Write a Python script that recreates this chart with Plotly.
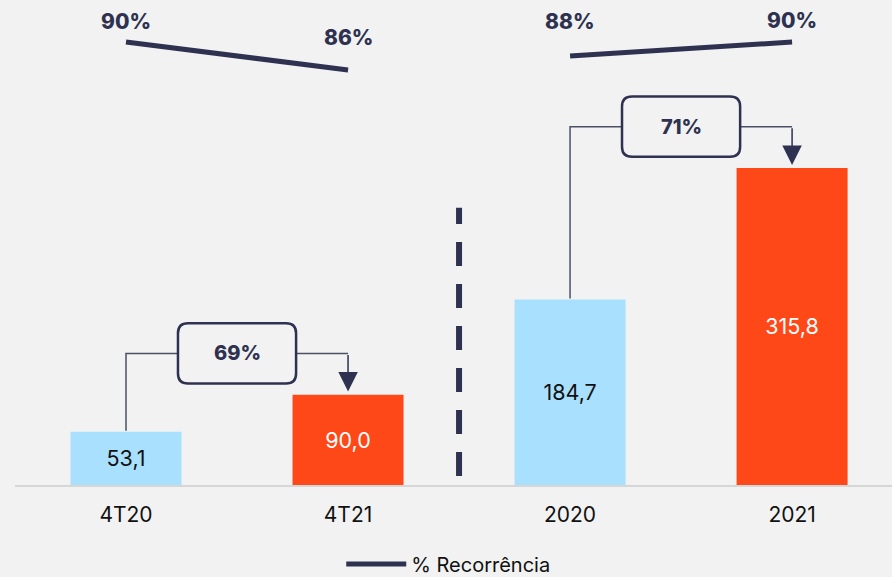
import plotly.graph_objects as go

# ---- data ----
categories = ["4T20", "4T21", "2020", "2021"]
values = [53.1, 90.0, 184.7, 315.8]
value_labels = ["53,1", "90,0", "184,7", "315,8"]
recorrencia = [90, 86, 88, 90]
growth_pairs = [(0, 1), (2, 3)]
growth_labels = ["69%", "71%"]

# ---- styles ----
BG = "#f2f2f2"
NAVY = "#2e3250"
BLUE = "#a9e0fd"
ORANGE = "#ff4817"
bar_colors = [BLUE, ORANGE, BLUE, ORANGE]
text_colors = ["#111111", "#ffffff", "#111111", "#ffffff"]
FONT = "Inter"

xpos = list(range(len(categories)))

fig = go.Figure()

fig.add_trace(go.Bar(
    x=xpos, y=values, width=0.5,
    marker=dict(color=bar_colors, line=dict(width=0)),
    text=value_labels, textposition="inside", insidetextanchor="middle",
    textfont=dict(family=FONT, size=21.5, color=text_colors),
    showlegend=False, hoverinfo="skip",
))

# % Recorrência line, two separate segments
segments = [(0, 2), (2, 4)]
for k, (a, b) in enumerate(segments):
    fig.add_trace(go.Scatter(
        x=xpos[a:b], y=recorrencia[a:b], yaxis="y2", mode="lines",
        line=dict(color=NAVY, width=5),
        name="% Recorrência", legendgroup="rec", showlegend=(k == 0),
        hoverinfo="skip",
    ))

label_shifts = [20, 32, 34, 21]
annotations = []
for i, v in enumerate(recorrencia):
    annotations.append(dict(
        x=xpos[i], y=v, xref="x", yref="y2", text=f"{v}%",
        showarrow=False, yshift=label_shifts[i],
        font=dict(family=FONT, size=21, color=NAVY, weight=800),
    ))

shapes = []

def rounded_rect(x0, x1, y0, y1, rx, ry):
    return (f"M {x0+rx},{y0} L {x1-rx},{y0} Q {x1},{y0} {x1},{y0+ry} "
            f"L {x1},{y1-ry} Q {x1},{y1} {x1-rx},{y1} L {x0+rx},{y1} "
            f"Q {x0},{y1} {x0},{y1-ry} L {x0},{y0+ry} Q {x0},{y0} {x0+rx},{y0} Z")

HW, HH, RX, RY, OFF = 0.266, 30, 0.045, 10, 41
for (i, j), lab in zip(growth_pairs, growth_labels):
    cx = (xpos[i] + xpos[j]) / 2
    cy = max(values[i], values[j]) + OFF
    shapes.append(dict(type="path", xref="x", yref="y",
                       path=f"M {xpos[i]},{values[i]+1} L {xpos[i]},{cy} L {cx-HW},{cy}",
                       line=dict(color="#4b5069", width=1.5)))
    shapes.append(dict(type="path", xref="x", yref="y",
                       path=f"M {cx+HW},{cy} L {xpos[j]},{cy}",
                       line=dict(color="#4b5069", width=1.5)))
    shapes.append(dict(type="path", xref="x", yref="y",
                       path=rounded_rect(cx-HW, cx+HW, cy-HH, cy+HH, RX, RY),
                       line=dict(color=NAVY, width=2.5), fillcolor=BG))
    annotations.append(dict(x=cx, y=cy, xref="x", yref="y", text=lab,
                            showarrow=False,
                            font=dict(family=FONT, size=20, color=NAVY, weight=800)))
    annotations.append(dict(x=xpos[j], y=values[j]+3, xref="x", yref="y",
                            ax=xpos[j], ay=cy, axref="x", ayref="y", text="",
                            showarrow=True, arrowhead=2, arrowsize=2.6, arrowwidth=1.5,
                            arrowcolor=NAVY))

# dashed separator between quarters and years
shapes.append(dict(type="line", xref="x", yref="y", x0=1.5, x1=1.5, y0=9, y1=276,
                   line=dict(color=NAVY, width=6, dash="24px,18px")))

fig.update_layout(
    width=892, height=577,
    paper_bgcolor=BG, plot_bgcolor=BG,
    margin=dict(l=15, r=0, t=0, b=92, autoexpand=False),
    font=dict(family=FONT, color="#111111"),
    bargap=0.5,
    xaxis=dict(range=[-0.5, 3.45], tickvals=xpos, ticktext=categories,
               showgrid=False, zeroline=False, showline=True,
               linecolor="#d6d6d6", linewidth=2, ticks="outside", ticklen=10,
               tickcolor=BG, tickwidth=0.1, automargin=False,
               tickfont=dict(family=FONT, size=21, color="#111111")),
    yaxis=dict(range=[0, 483], showgrid=False, zeroline=False,
               showticklabels=False, showline=False, automargin=False),
    yaxis2=dict(range=[26.7, 96], overlaying="y", showgrid=False, zeroline=False,
                showticklabels=False, showline=False, automargin=False),
    legend=dict(orientation="h", x=0.372, xanchor="left", y=-0.163, yanchor="middle",
                font=dict(family=FONT, size=20, color="#111111"),
                bgcolor="rgba(0,0,0,0)", borderwidth=0, itemwidth=60),
    shapes=shapes,
    annotations=annotations,
)

fig.write_html("out.html", config={"displayModeBar": False},
               post_script="document.body.style.margin='0';document.body.style.overflow='hidden';")
